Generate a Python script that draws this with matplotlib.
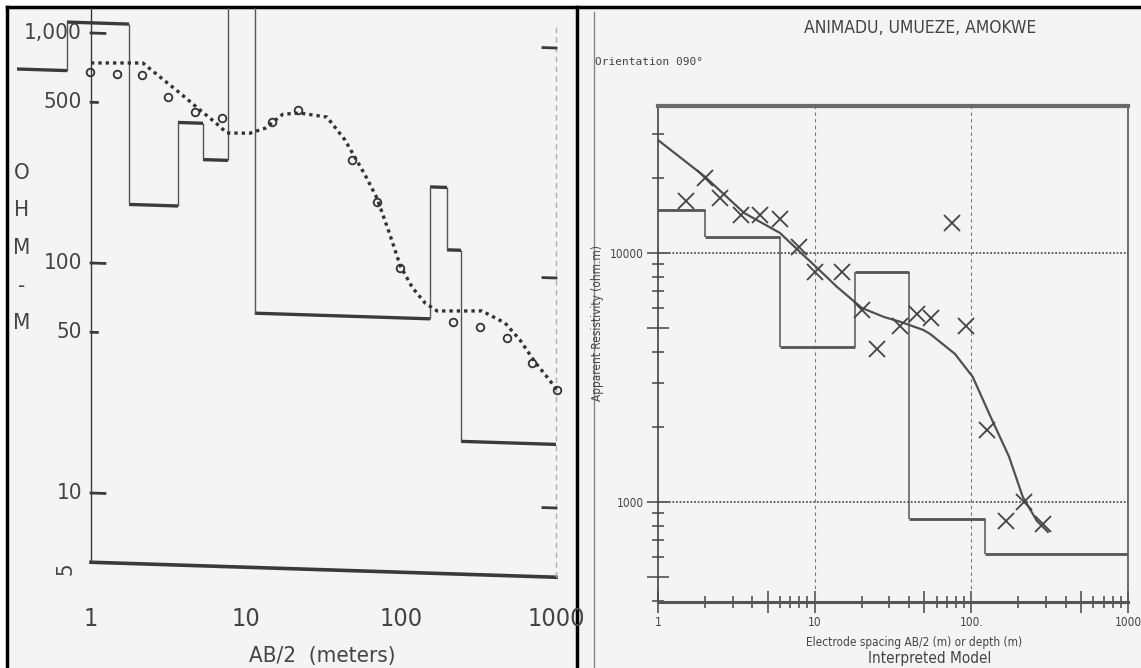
import numpy as np
import matplotlib
matplotlib.use('Agg')
import matplotlib.pyplot as plt
import matplotlib.transforms as mtransforms
from matplotlib.ticker import FixedLocator, FixedFormatter, NullFormatter

plt.rcParams['font.family'] = ['DejaVu Sans']
plt.rcParams['font.stretch'] = 'condensed'

# ---- left sounding (AB/2 in m, resistivity in ohm-m) ----
left_fit_ab2 = [1.0, 2.16, 2.79, 3.75, 5.05, 6.31, 7.54, 10.6, 13.3, 17.3, 22.3, 33.3, 43.5,
                58.6, 70.0, 84.9, 98.6, 118, 143, 171, 333, 469, 586, 732, 888, 1014]
left_fit_rho = [741, 753, 658, 564, 479, 426, 384, 386, 408, 472, 480, 465, 372,
                264, 210, 146, 108, 87, 74.6, 69.2, 70.2, 62.7, 53.1, 42.8, 36.6, 32.6]
left_obs_ab2 = [0.99, 1.47, 2.13, 3.14, 4.69, 7.0, 14.7, 21.6, 48.3, 70, 98.6, 216, 324, 483, 700, 1014]
left_obs_rho = [676, 668, 667, 541, 469, 446, 435, 494, 305, 202, 105, 62.2, 59.7, 54, 42.3, 32.6]
left_model_depth = [0.333, 0.70, 1.76, 3.64, 5.28, 7.65, 11.4, 154, 198, 244, 1000]
left_model_rho = [681, 1107, 182, 420, 292, 5000, 63.8, 239, 128, 18.9]
left_yticks = [1000, 500, 100, 50, 10]
left_ylabels = ['1,000', '500', '100', '50', '10']
left_xticks = [1, 10, 100, 1000]
left_xlabels = ['1', '10', '100', '1000']

# ---- right sounding ----
right_fit_ab2 = [1, 2.0, 3.54, 6.0, 8.18, 10.2, 13.9, 20.0, 27.7, 35.5, 49.1, 54.5, 78.6,
                 102, 133, 174, 213, 262, 308]
right_fit_rho = [28400, 20200, 14480, 12030, 10000, 8790, 7300, 6010, 5530, 5280, 4910, 4730,
                 3930, 3180, 2190, 1520, 1047, 839, 758]
right_obs_ab2 = [1.5, 2, 2.5, 3.4, 4.5, 6, 8, 10, 15, 20, 25, 35, 45, 55, 75, 93, 125, 167, 217, 288]
right_obs_rho = [16180, 20000, 16630, 14220, 14220, 13690, 10570, 8390, 8390, 5900, 4110, 5090,
                 5690, 5480, 13190, 5090, 1945, 839, 1000, 817]
right_model_depth = [1, 2, 6, 18, 40, 122, 1000]
right_model_rho = [14880, 11600, 4190, 8390, 855, 618]

W, H = 1141, 668
fig = plt.figure(figsize=(W / 100, H / 100), dpi=100)
fig.patch.set_facecolor('white')


def box(l, t, r, b):
    return [l / W, 1 - b / H, (r - l) / W, (b - t) / H]


# scanned paper background + black frame
bg = fig.add_axes([0, 0, 1, 1])
bg.set_xlim(0, W)
bg.set_ylim(H, 0)
bg.axis('off')
bg.add_patch(plt.Rectangle((7, 7), W - 7, H - 7, color='#f4f4f4', zorder=0))
bg.plot([7, W], [7, 7], color='black', lw=2.5)
bg.plot([7, 7], [7, H], color='black', lw=2.5)
bg.plot([577, 577], [7, H], color='black', lw=2.5)
bg.plot([594, 594], [12, H], color='#888888', lw=1)

ink = '#3a3a3a'
txt = '#444444'

# ================= left panel =================
ax1 = fig.add_axes(box(8, 8, 576, 668))
ax1.set_xscale('log')
ax1.set_yscale('log')
ax1.set_xlim(10 ** ((8 - 91) / 155), 10 ** ((576 - 91) / 155))
ax1.set_ylim(10 ** (3 - (668 - 33) / 230), 10 ** (3 + (33 - 8) / 230))
ax1.axis('off')
ax1.patch.set_alpha(0)

# the scan is slightly skewed: right side sits lower
k = 15 / 465
shear = mtransforms.Affine2D(np.array([[1, 0, 0], [-k, 1, k * 91], [0, 0, 1]], float))
tr1 = ax1.transData + shear
ylo, yhi = ax1.get_ylim()

ax1.plot([1, 1], [5, yhi], color=ink, lw=1, transform=tr1)
ax1.plot([1, 1000], [5, 5], color=ink, lw=2.6, transform=tr1)
ax1.plot([1000, 1000], [5, yhi], color='#b0b0b0', lw=1, ls=(0, (4, 3)), transform=tr1)
for v in left_yticks:
    long = v in (1000, 100, 10)
    ax1.plot([1, 1.23 if long else 1.1], [v, v], color=ink, lw=2, transform=tr1)
    if long:
        ax1.plot([824, 1000], [v, v], color=ink, lw=2, transform=tr1)

# interpreted layer model
m_lo = left_model_depth[:-1]
m_hi = left_model_depth[1:]
ax1.hlines(left_model_rho, m_lo, m_hi, color=ink, lw=2.4, transform=tr1)
ax1.vlines(left_model_depth[1:-1], left_model_rho[:-1], left_model_rho[1:],
           color='#555555', lw=1, transform=tr1)

# computed curve and field data
ax1.plot(left_fit_ab2, left_fit_rho, color='#333333', lw=2.4, ls=(0, (1, 1.2)), transform=tr1)
ax1.plot(left_obs_ab2, left_obs_rho, 'o', ms=5.5, mfc='none', mec='#333333', mew=1.3,
         transform=tr1)

ylab_tr = mtransforms.offset_copy(tr1, fig=fig, x=-9, y=0, units='dots')
for v, s in zip(left_yticks, left_ylabels):
    ax1.text(1, v, s, transform=ylab_tr, ha='right', va='center', fontsize=16, color=txt)
ax1.text(1, 5, '5', transform=mtransforms.offset_copy(tr1, fig=fig, x=-26, y=-6, units='dots'),
         ha='center', va='center', fontsize=16, rotation=90, color=txt)
xlab_tr = mtransforms.offset_copy(ax1.transData, fig=fig, x=0, y=-57, units='dots')
for v, s in zip(left_xticks, left_xlabels):
    ax1.text(v, 5, s, transform=xlab_tr, ha='center', va='center', fontsize=18, color=txt)
fig.text(322 / W, 1 - 656 / H, 'AB/2  (meters)', ha='center', va='center', fontsize=16,
         color=txt)
fig.text(22 / W, 1 - 248 / H, 'O\nH\nM\n-\nM', ha='center', va='center', fontsize=16,
         linespacing=2.1, color=txt)

# ================= right panel =================
ax2 = fig.add_axes(box(658, 106, 1128, 602))
ax2.set_xscale('log')
ax2.set_yscale('log')
ax2.set_xlim(1, 1000)
ax2.set_ylim(10 ** 2.598, 10 ** 4.59)
ax2.patch.set_alpha(0)
for side, lw, c in [('left', 1.2, '#444444'), ('bottom', 2.2, '#555555'),
                    ('right', 1.2, '#555555'), ('top', 3, '#6a6a6a')]:
    ax2.spines[side].set_linewidth(lw)
    ax2.spines[side].set_color(c)

decades = [1, 10, 100]
ax2.xaxis.set_major_locator(FixedLocator([1, 5, 10, 50, 100, 500, 1000]))
ax2.xaxis.set_major_formatter(FixedFormatter(['1', '', '10', '', '100.', '', '1000']))
ax2.xaxis.set_minor_locator(FixedLocator([d * m for d in decades for m in (2, 3, 4, 6, 7, 8, 9)]))
ax2.xaxis.set_minor_formatter(NullFormatter())
ax2.yaxis.set_major_locator(FixedLocator([500, 1000, 5000, 10000]))
ax2.yaxis.set_major_formatter(FixedFormatter(['', '1000', '', '10000']))
ax2.yaxis.set_minor_locator(FixedLocator([d * m for d in (100, 1000, 10000) for m in (2, 3, 4, 6, 7, 8, 9)]))
ax2.yaxis.set_minor_formatter(NullFormatter())
ax2.tick_params(which='major', direction='inout', length=16, width=1.1, color=txt,
                labelsize=8.5, labelcolor=txt, pad=2)
ax2.tick_params(which='minor', direction='inout', length=9, width=1.1, color=txt)

ax2.axhline(1000, color='#555555', lw=1.3, ls=(0, (1, 1)))
ax2.axhline(10000, color='#555555', lw=1.3, ls=(0, (1, 1)))
ax2.axvline(10, color='#777777', lw=0.8, ls=(0, (3, 3)))
ax2.axvline(100, color='#777777', lw=0.8, ls=(0, (3, 3)))

r_lo = right_model_depth[:-1]
r_hi = right_model_depth[1:]
ax2.hlines(right_model_rho, r_lo, r_hi, color='#555555', lw=2)
ax2.vlines(right_model_depth[1:-1], right_model_rho[:-1], right_model_rho[1:],
           color='#555555', lw=1.1)
ax2.plot(right_fit_ab2, right_fit_rho, color='#505050', lw=1.6)
ax2.plot(right_obs_ab2, right_obs_rho, 'x', ms=11, mew=1.3, color=txt)

ax2.set_xlabel('Electrode spacing AB/2 (m) or depth (m)', fontsize=8.5, color=txt)
ax2.xaxis.set_label_coords((914 - 658) / 470, (602 - 636) / 496)
ax2.set_ylabel('Apparent Resistivity (ohm.m)', fontsize=8.5, color=txt)
ax2.yaxis.set_label_coords((604 - 658) / 470, (602 - 323) / 496)
fig.text(930 / W, 1 - 659 / H, 'Interpreted Model', ha='center', va='center', fontsize=11,
         color=txt)
fig.text(920 / W, 1 - 28 / H, 'ANIMADU, UMUEZE, AMOKWE', ha='center', va='center',
         fontsize=12.5, color=txt)
fig.text(595 / W, 1 - 62 / H, 'Orientation 090\u00b0', ha='left', va='center', fontsize=8,
         family='DejaVu Sans Mono', color=txt)

fig.savefig('out.png', dpi=100)
